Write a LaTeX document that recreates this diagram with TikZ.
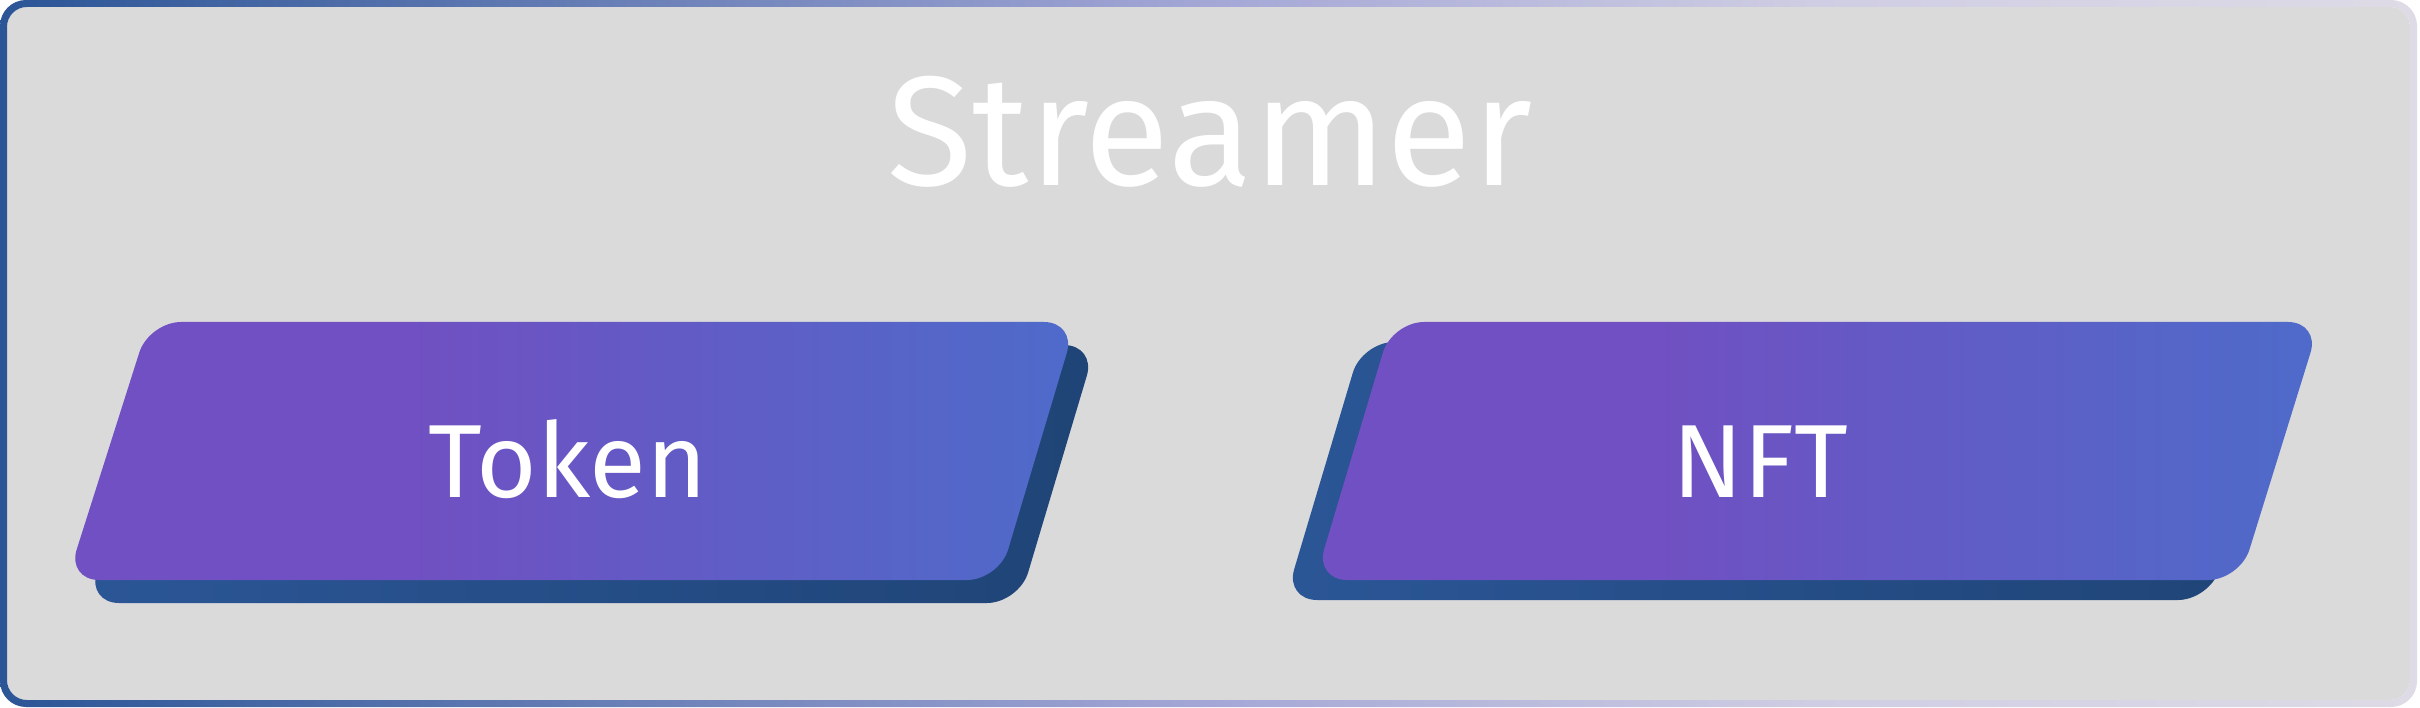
\documentclass[tikz,border=0pt]{standalone}
\usepackage{fontspec}
\setmainfont{Fira Sans}
\definecolor{framebg}{HTML}{DADADA}
\definecolor{bordA}{HTML}{2B5596}
\definecolor{bordB}{HTML}{A4A7D6}
\definecolor{bordC}{HTML}{CFCDE3}
\definecolor{bordD}{HTML}{DEDBE6}
\definecolor{frontA}{HTML}{7050C2}
\definecolor{frontB}{HTML}{4E6BCA}
\definecolor{backA}{HTML}{2B5696}
\definecolor{backB}{HTML}{1F4476}
\pgfdeclarehorizontalshading{bordershade}{100bp}{color(0bp)=(bordA); color(25bp)=(bordA); color(50bp)=(bordB); color(62.5bp)=(bordC); color(75bp)=(bordD); color(100bp)=(bordD)}
\pgfdeclarehorizontalshading{frontshade}{100bp}{color(0bp)=(frontA); color(25bp)=(frontA); color(42bp)=(frontA); color(75bp)=(frontB); color(100bp)=(frontB)}
\pgfdeclarehorizontalshading{backshade}{100bp}{color(0bp)=(backA); color(25bp)=(backA); color(75bp)=(backB); color(100bp)=(backB)}
\begin{document}
\begin{tikzpicture}[x=1pt,y=-1pt,
  frontbox/.style={shading=frontshade, rounded corners=32pt},
  backbox/.style={shading=backshade, rounded corners=32pt},
  lbl/.style={text=white, inner sep=0pt, anchor=base, font=\fontsize{104}{114}\selectfont},
  titlelbl/.style={text=white, inner sep=0pt, anchor=base, font=\fontsize{156}{170}\selectfont}]
\useasboundingbox (0,0) rectangle (2420,708);
% frame
\fill[framebg, rounded corners=20pt] (7,7) rectangle (2410,700);
\shade[shading=bordershade, even odd rule] [rounded corners=26pt] (0,0) rectangle (2417,707) [rounded corners=20pt] (7,7) rectangle (2410,700);
% Token
\shade[backbox] (169,345) -- (1096,345) -- (1019,603) -- (87,603) -- cycle;
\shade[frontbox] (149,322) -- (1076,322) -- (999,580) -- (67,580) -- cycle;
% NFT
\shade[backbox] (1362,342) -- (2290,342) -- (2210,600) -- (1285,600) -- cycle;
\shade[frontbox] (1392,322) -- (2320,322) -- (2240,580) -- (1315,580) -- cycle;
% labels
\node[titlelbl] (streamer) at (1210,186) {Streamer};
\node[lbl] (token) at (568,497) {Token};
\node[lbl] (nft) at (1760,497) {NFT};
\end{tikzpicture}
\end{document}
